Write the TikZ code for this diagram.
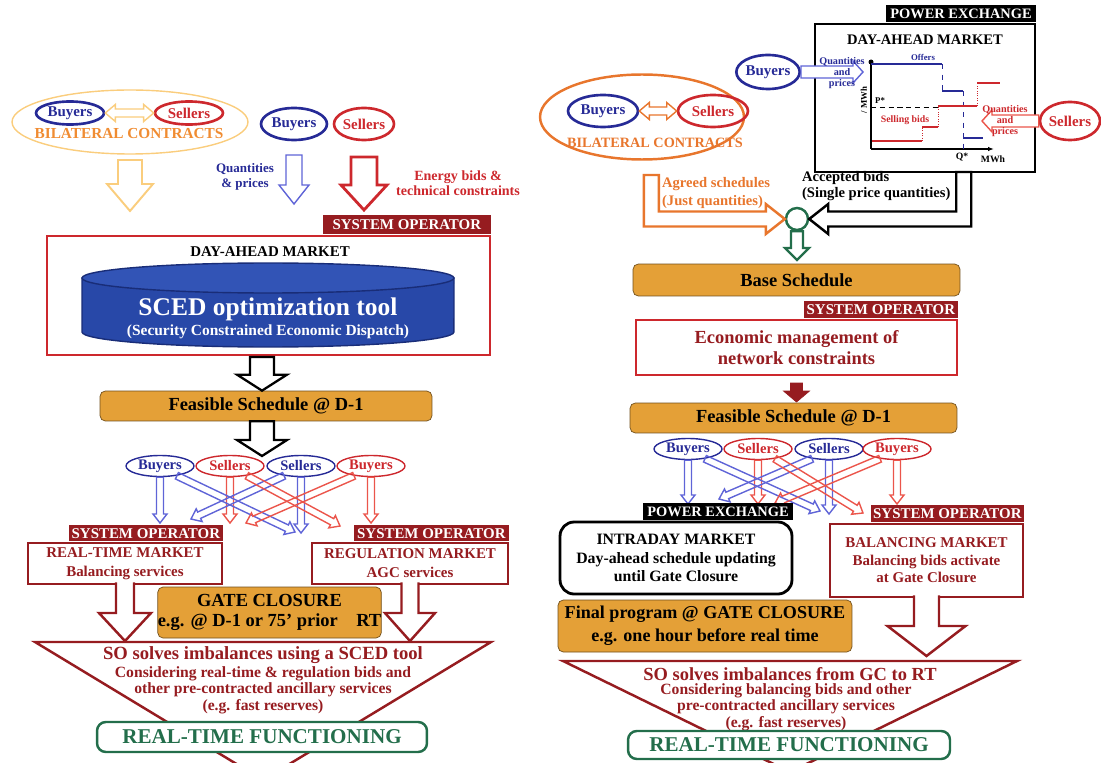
\documentclass[tikz,border=0pt]{standalone}
\usepackage{fontspec}
\setmainfont{Liberation Serif}
\usepackage{tikz}
\usepackage{xcolor}
\usetikzlibrary{positioning}
\usetikzlibrary{calc}
\usetikzlibrary{arrows.meta}
\usetikzlibrary{shapes.geometric}

\definecolor{buyblue}{RGB}{38,42,150}
\definecolor{sellred}{RGB}{205,40,45}
\definecolor{thinblue}{RGB}{95,100,215}
\definecolor{thinred}{RGB}{235,85,75}
\definecolor{sored}{RGB}{150,28,32}
\definecolor{gold}{RGB}{228,160,55}
\definecolor{cylblue}{RGB}{40,72,168}
\definecolor{cyltop}{RGB}{50,84,182}
\definecolor{cyledge}{RGB}{25,45,120}
\definecolor{rtgreen}{RGB}{35,110,75}
\definecolor{contract}{RGB}{232,118,45}
\definecolor{paleorange}{RGB}{250,205,125}
\definecolor{contractL}{RGB}{240,140,50}

\newcommand{\fsz}[2]{\fontsize{#1}{#2}\selectfont\bfseries}
\newcommand{\blockarrow}[6][]{\draw[#1] ($(#2)!#4!90:(#3)$) -- ($(#3)!#6!(#2)!#4!-90:(#2)$) -- ($(#3)!#6!(#2)!#5!-90:(#2)$) -- (#3) -- ($(#3)!#6!(#2)!#5!90:(#2)$) -- ($(#3)!#6!(#2)!#4!90:(#2)$) -- ($(#2)!#4!-90:(#3)$) -- cycle;}
\newcommand{\tailarrow}[6][]{\draw[#1] ($(#2)!#4!90:(#3)$) -- ($(#3)!#6!(#2)!#4!-90:(#2)$) -- ($(#3)!#6!(#2)!#5!-90:(#2)$) -- (#3) -- ($(#3)!#6!(#2)!#5!90:(#2)$) -- ($(#3)!#6!(#2)!#4!90:(#2)$) -- ($(#2)!#4!-90:(#3)$);}
\newcommand{\twinarrow}[6][]{\draw[#1] ($(#2)!#6!(#3)!#4!90:(#3)$) -- ($(#3)!#6!(#2)!#4!-90:(#2)$) -- ($(#3)!#6!(#2)!#5!-90:(#2)$) -- (#3) -- ($(#3)!#6!(#2)!#5!90:(#2)$) -- ($(#3)!#6!(#2)!#4!90:(#2)$) -- ($(#2)!#6!(#3)!#4!-90:(#3)$) -- ($(#2)!#6!(#3)!#5!-90:(#3)$) -- (#2) -- ($(#2)!#6!(#3)!#5!90:(#3)$) -- cycle;}

\tikzstyle{party}=[ellipse, inner sep=0pt, font=\fsz{8.5}{10}]
\tikzstyle{buyer}=[party, draw=buyblue, text=buyblue, line width=1.5pt]
\tikzstyle{seller}=[party, draw=sellred, text=sellred, line width=1.5pt]
\tikzstyle{bidder}=[thick, minimum width=1.36cm, minimum height=0.42cm, font=\fsz{8.3}{10}]
\tikzstyle{tab}=[inner sep=0pt, text=white, fill=sored, font=\fsz{8.5}{10}]
\tikzstyle{pxtab}=[tab, fill=black, font=\fsz{8.2}{10}]
\tikzstyle{market}=[draw=sored, line width=1.4pt, fill=white, text=sored, align=center, inner sep=0pt, font=\fsz{8.5}{10.8}]
\tikzstyle{schedule}=[fill=gold, draw=gold!50!black, rounded corners=3pt, align=center, inner sep=0pt, font=\fsz{10.5}{12}]
\tikzstyle{realtime}=[draw=rtgreen, line width=1.4pt, fill=white, rounded corners=5pt, text=rtgreen, inner sep=0pt, font=\fsz{12}{13}]
\tikzstyle{bigflow}=[line width=1.4pt, fill=white]
\tikzstyle{thinflow}=[line width=0.8pt]

\begin{document}
\begin{tikzpicture}[x=0.02cm, y=-0.02cm, every node/.style={font=\fsz{8.5}{10}}]
    \useasboundingbox (0,0) rectangle (1101,763);

    \node[ellipse, draw=paleorange, thick, minimum width=4.72cm, minimum height=1.28cm] (bilatL) at (130,122) {};
    \node[buyer, minimum width=1.36cm, minimum height=0.46cm]  (buyL0)  at (70,113)  {Buyers};
    \node[seller, minimum width=1.36cm, minimum height=0.46cm] (sellL0) at (189,113) {Sellers};
    \node[text=contractL, font=\fsz{8.7}{10}] (bilatLtxt) at (129,134) {BILATERAL CONTRACTS};
    \twinarrow[paleorange, thick, fill=white]{buyL0.east}{sellL0.west}{0.08cm}{0.17cm}{0.2cm}

    \node[buyer, minimum width=1.32cm, minimum height=0.64cm]  (buyL1)  at (294,124) {Buyers};
    \node[seller, minimum width=1.2cm, minimum height=0.64cm]  (sellL1) at (364,124) {Sellers};
    \node[text=buyblue, align=center, font=\fsz{7.4}{8.5}] (qpL) at (245,177) {Quantities\\\& prices};
    \node[text=sellred, align=center, font=\fsz{8}{8.6}]  (ebL) at (458,183) {Energy bids \&\\technical constraints};

    \coordinate (bilatLout) at (130,160);
    \coordinate (bilatLend) at (130,211);
    \coordinate (buyL1out)  at (294,155);
    \coordinate (buyL1end)  at (294,204);
    \coordinate (sellL1out) at (364,157);
    \coordinate (sellL1end) at (364,210);
    \blockarrow[paleorange, line width=1.1pt, fill=white]{bilatLout}{bilatLend}{0.24cm}{0.46cm}{0.54cm}
    \blockarrow[thinblue, thick, fill=white]{buyL1out}{buyL1end}{0.16cm}{0.3cm}{0.38cm}
    \blockarrow[sellred, line width=1.6pt, fill=white]{sellL1out}{sellL1end}{0.26cm}{0.46cm}{0.5cm}

    \node[market, draw=sellred, minimum width=8.86cm, minimum height=2.38cm] (daBox) at (268.5,295.5) {};
    \node[tab, minimum width=3.36cm, minimum height=0.38cm, above left=0pt of daBox.north east] (soTab1) {SYSTEM OPERATOR};
    \node (daTitle) at (270,252) {DAY-AHEAD MARKET};
    \draw[fill=cylblue, draw=cyledge, thick] (82,278) -- (82,332) arc[start angle=180, end angle=360, x radius=3.72cm, y radius=0.3cm] -- (454,278) -- cycle;
    \draw[fill=cyltop, draw=cyledge, thick] (268,278) ellipse [x radius=3.72cm, y radius=0.3cm];
    \node[text=white, font=\fsz{14.5}{16}] (sced)    at (268,309) {SCED optimization tool};
    \node[text=white, font=\fsz{8.8}{10}]  (scedSub) at (268,332) {(Security Constrained Economic Dispatch)};

    \node[schedule, minimum width=6.64cm, minimum height=0.6cm] (feasL) at (266,406) {Feasible Schedule @ D-1};
    \coordinate (daOut)    at (262,357);
    \coordinate (feasLout) at (262,456);
    \blockarrow[black, line width=1.3pt, fill=white]{daOut}{feasL.north -| daOut}{0.24cm}{0.5cm}{0.32cm}
    \blockarrow[black, line width=1.3pt, fill=white]{feasL.south -| feasLout}{feasLout}{0.24cm}{0.5cm}{0.32cm}

    \node[buyer, bidder]  (buyL2)  at (160,466) {Buyers};
    \node[seller, bidder] (sellL2) at (230,466) {Sellers};
    \node[buyer, bidder]  (sellL3) at (301,466) {Sellers};
    \node[seller, bidder] (buyL3)  at (371,466) {Buyers};

    \coordinate (rtIn1)  at (160,523);
    \coordinate (rtIn2)  at (230,523);
    \coordinate (regIn1) at (301,533);
    \coordinate (regIn2) at (371,523);
    \coordinate (regIn3) at (295,532);
    \coordinate (rtIn3)  at (191,519);
    \coordinate (regIn4) at (340,526);
    \coordinate (rtIn4)  at (246,523);
    \blockarrow[thinblue, thinflow]{buyL2.south}{rtIn1}{0.07cm}{0.14cm}{0.18cm}
    \blockarrow[thinred, thinflow]{sellL2.south}{rtIn2}{0.07cm}{0.14cm}{0.18cm}
    \blockarrow[thinblue, thinflow]{sellL3.south}{regIn1}{0.07cm}{0.14cm}{0.18cm}
    \blockarrow[thinred, thinflow]{buyL3.south}{regIn2}{0.07cm}{0.14cm}{0.18cm}
    \blockarrow[thinblue, thinflow]{buyL2.-30}{regIn3}{0.07cm}{0.14cm}{0.18cm}
    \blockarrow[thinblue, thinflow]{sellL3.-150}{rtIn3}{0.07cm}{0.14cm}{0.18cm}
    \blockarrow[thinred, thinflow]{sellL2.-30}{regIn4}{0.07cm}{0.14cm}{0.18cm}
    \blockarrow[thinred, thinflow]{buyL3.-150}{rtIn4}{0.07cm}{0.14cm}{0.18cm}

    \node[market, minimum width=3.88cm, minimum height=0.82cm] (rtBox) at (125,563.5) {REAL-TIME MARKET\\Balancing services};
    \node[tab, minimum width=3.08cm, minimum height=0.32cm, above left=0pt of rtBox.north east] (soTab2) {SYSTEM OPERATOR};
    \node[market, minimum width=3.92cm, minimum height=0.82cm] (regBox) at (410,563.5) {REGULATION MARKET\\AGC services};
    \node[tab, minimum width=3.1cm, minimum height=0.32cm, above left=0pt of regBox.north east] (soTab3) {SYSTEM OPERATOR};

    \draw[sored, line width=1.4pt, fill=white] (35,642) -- (491,642) -- (263,780) -- cycle;
    \coordinate (rtTail)  at ([yshift=1.6pt]rtBox.south);
    \coordinate (rtTip)   at (125,641);
    \coordinate (regTail) at ([yshift=1.6pt]regBox.south);
    \coordinate (regTip)  at (410,641);
    \tailarrow[sored, bigflow]{rtTail}{rtTip}{0.18cm}{0.52cm}{0.56cm}
    \tailarrow[sored, bigflow]{regTail}{regTip}{0.17cm}{0.5cm}{0.56cm}

    \node[schedule, minimum width=4.46cm, minimum height=1.02cm, font=\fsz{10.5}{11.4}] (gateL) at (269.5,612.5) {GATE CLOSURE\\e.g. @ D-1 or 75' prior\quad RT};
    \node[text=sored, font=\fsz{10.6}{12}] (soSolvesL) at (263,655) {SO solves imbalances using a SCED tool};
    \node[text=sored, align=center, font=\fsz{8.9}{9.4}] (soNoteL) at (263,690) {Considering real-time \& regulation bids and\\other pre-contracted ancillary services\\(e.g. fast reserves)};
    \node[realtime, minimum width=6.6cm, minimum height=0.6cm] (rtfL) at (262,737) {REAL-TIME FUNCTIONING};

    \node[ellipse, draw=contract, line width=1.4pt, minimum width=4.08cm, minimum height=1.7cm] (bilatR) at (642,117) {};
    \node[buyer, minimum width=1.4cm, minimum height=0.64cm]  (buyR0)  at (603,111) {Buyers};
    \node[seller, minimum width=1.4cm, minimum height=0.64cm] (sellR0) at (713,111) {Sellers};
    \twinarrow[contract, thick, fill=white]{buyR0.east}{sellR0.west}{0.08cm}{0.17cm}{0.2cm}
    \node[text=contract, font=\fsz{8.1}{10}] (bilatRtxt) at (655,143) {BILATERAL CONTRACTS};

    \node[draw, line width=1.6pt, minimum width=4.4cm, minimum height=2.96cm, inner sep=0pt] (pxBox) at (925,98) {};
    \node[pxtab, minimum width=3cm, minimum height=0.34cm, above left=0pt of pxBox.north east] (pxTab) {POWER EXCHANGE};
    \node[font=\fsz{8.3}{10}] (pxTitle) at (925,40) {DAY-AHEAD MARKET};

    \coordinate (orig) at (871,149);
    \begin{scope}[shift={(orig)}]
        \draw[thick, -{Latex[length=0.12cm]}] (0,0) -- (123,0);
        \draw[thick] (0,0) -- (0,-87);
        \fill (0,-87) circle (0.05cm);
        \draw[densely dashed, thin] (0,-42) -- (69,-42);
        \draw[buyblue, dashed, thin] (71,-85) -- (71,-58) (92,-58) -- (92,0);
        \draw[buyblue, line width=1.5pt] (0,-85) -- (71,-85) (71,-58) -- (92,-58) (92,-11) -- (112,-11);
        \draw[sellred, densely dotted, thin] (51,-8) -- (51,-22) (67,-22) -- (67,-43) (106,-43) -- (106,-66);
        \draw[sellred, line width=1.5pt] (1,-8) -- (51,-8) (51,-22) -- (67,-22) (67,-43) -- (106,-43) (106,-66) -- (129,-66);
        \node[text=buyblue, font=\fsz{5}{6}] (offers) at (52,-92) {Offers};
        \node[font=\fsz{5}{6}] (pStar) at (9,-48) {P*};
        \node[text=sellred, font=\fsz{5.6}{6}] (sellBids) at (34,-29) {Selling bids};
        \node[font=\fsz{5.5}{6}] (qStar) at (91,8) {Q*};
        \node[font=\fsz{5.5}{6}] (mwhX) at (122,10) {MWh};
        \node[font=\fsz{5}{6}, rotate=90] (mwhY) at (-7,-49) {/ MWh};
    \end{scope}

    \node[buyer, minimum width=1.24cm, minimum height=0.68cm] (buyR1)  at (768,72)  {Buyers};
    \node[seller, minimum width=1.2cm, minimum height=0.76cm] (sellR1) at (1070,121) {Sellers};
    \coordinate (pxBuyIn)  at (863,72);
    \coordinate (pxSellIn) at (982,121);
    \blockarrow[thinblue, thick, fill=white]{buyR1.east}{pxBuyIn}{0.12cm}{0.22cm}{0.2cm}
    \blockarrow[thinred, thick, fill=white]{sellR1.west}{pxSellIn}{0.12cm}{0.22cm}{0.2cm}
    \node[text=buyblue, align=center, font=\fsz{5.8}{6.5}] (qpR1) at (842,73) {Quantities\\and\\prices};
    \node[text=sellred, align=center, font=\fsz{5.8}{6.5}] (qpR2) at (1005,121) {Quantities\\and\\prices};

    \node[circle, draw=rtgreen, line width=1.4pt, minimum size=0.44cm, inner sep=0pt] (merge) at (797,219) {};
    \draw[contract, line width=1.4pt, fill=white] (merge.west) -- ++(-19,-15) -- ++(0,7.5) -- ++(-107,0) -- ++(0,-36.5) -- ++(-15,0) -- ++(0,51.5) -- ++(122,0) -- ++(0,7.5) -- cycle;
    \draw[black, line width=1.4pt, fill=white] (merge.east) -- ++(19,-15) -- ++(0,7.5) -- ++(128,0) -- ++(0,-39.5) -- ++(15,0) -- ++(0,54.5) -- ++(-143,0) -- ++(0,7.5) -- cycle;
    \node[text=contract, align=left, anchor=west, inner sep=1pt, font=\fsz{8.3}{10.4}] (agreed) at (660,193) {Agreed schedules\\(Just quantities)};
    \node[align=left, anchor=west, inner sep=1pt, font=\fsz{8.3}{9.5}] (accepted) at (800,186) {Accepted bids\\(Single price quantities)};

    \node[schedule, minimum width=6.54cm, minimum height=0.64cm] (baseSched) at (796.5,280) {Base Schedule};
    \coordinate (baseIn) at (797,260);
    \blockarrow[rtgreen, line width=1.3pt, fill=white]{merge.south}{baseIn}{0.12cm}{0.24cm}{0.24cm}

    \node[market, draw=sellred, minimum width=6.42cm, minimum height=1.1cm, font=\fsz{10.5}{12}] (econBox) at (796.5,347.5) {Economic management of\\network constraints};
    \node[tab, minimum width=3.08cm, minimum height=0.34cm, above left=0pt of econBox.north east] (soTab4) {SYSTEM OPERATOR};
    \node[schedule, minimum width=6.54cm, minimum height=0.6cm] (feasR) at (793.5,418) {Feasible Schedule @ D-1};
    \coordinate (econOut) at (796.5,383);
    \coordinate (feasRin) at (796.5,402);
    \blockarrow[sored, fill=sored, thin]{econOut}{feasRin}{0.12cm}{0.26cm}{0.22cm}

    \node[buyer, bidder]  (buyR2)  at (688,449) {Buyers};
    \node[seller, bidder] (sellR2) at (758,449) {Sellers};
    \node[buyer, bidder]  (sellR3) at (829,449) {Sellers};
    \node[seller, bidder] (buyR3)  at (897,449) {Buyers};

    \coordinate (idIn1)  at (688,504);
    \coordinate (idIn2)  at (758,504);
    \coordinate (balIn1) at (829,514);
    \coordinate (balIn2) at (897,504);
    \coordinate (balIn3) at (820,511);
    \coordinate (idIn3)  at (719,499);
    \coordinate (balIn4) at (863,513);
    \coordinate (idIn4)  at (775,503);
    \blockarrow[thinblue, thinflow]{buyR2.south}{idIn1}{0.07cm}{0.14cm}{0.18cm}
    \blockarrow[thinred, thinflow]{sellR2.south}{idIn2}{0.07cm}{0.14cm}{0.18cm}
    \blockarrow[thinblue, thinflow]{sellR3.south}{balIn1}{0.07cm}{0.14cm}{0.18cm}
    \blockarrow[thinred, thinflow]{buyR3.south}{balIn2}{0.07cm}{0.14cm}{0.18cm}
    \blockarrow[thinblue, thinflow]{buyR2.-30}{balIn3}{0.07cm}{0.14cm}{0.18cm}
    \blockarrow[thinblue, thinflow]{sellR3.-150}{idIn3}{0.07cm}{0.14cm}{0.18cm}
    \blockarrow[thinred, thinflow]{sellR2.-30}{balIn4}{0.07cm}{0.14cm}{0.18cm}
    \blockarrow[thinred, thinflow]{buyR3.-150}{idIn4}{0.07cm}{0.14cm}{0.18cm}

    \node[draw, line width=1.6pt, rounded corners=8pt, fill=white, minimum width=4.64cm, minimum height=1.44cm, align=center, inner sep=0pt, font=\fsz{9}{10.5}] (intraBox) at (676,558) {INTRADAY MARKET\\Day-ahead schedule updating\\until Gate Closure};
    \node[pxtab, minimum width=3cm, minimum height=0.34cm, above left=0pt of intraBox.north east] (pxTab2) {POWER EXCHANGE};
    \node[market, minimum width=3.86cm, minimum height=1.46cm, font=\fsz{8.5}{10}] (balBox) at (926.5,560.5) {BALANCING MARKET\\Balancing bids activate\\at Gate Closure};
    \node[tab, minimum width=3.06cm, minimum height=0.34cm, above left=0pt of balBox.north east] (soTab5) {SYSTEM OPERATOR};

    \node[schedule, minimum width=5.88cm, minimum height=1.04cm, font=\fsz{10.3}{13}] (finalProg) at (705,626) {Final program @ GATE CLOSURE\\e.g. one hour before real time};

    \draw[sored, line width=1.4pt, fill=white] (563,661) -- (1017,661) -- (790,772) -- cycle;
    \coordinate (balTail) at ([yshift=1.6pt]balBox.south);
    \coordinate (balTip)  at (926.5,656);
    \tailarrow[sored, bigflow]{balTail}{balTip}{0.25cm}{0.78cm}{0.6cm}
    \node[text=sored, font=\fsz{10.5}{12}] (soSolvesR) at (790,674) {SO solves imbalances from GC to RT};
    \node[text=sored, align=center, font=\fsz{8.9}{9.4}] (soNoteR) at (786,707) {Considering balancing bids and other\\pre-contracted ancillary services\\(e.g. fast reserves)};
    \node[realtime, minimum width=6.44cm, minimum height=0.56cm] (rtfR) at (789,745) {REAL-TIME FUNCTIONING};
\end{tikzpicture}
\end{document}
